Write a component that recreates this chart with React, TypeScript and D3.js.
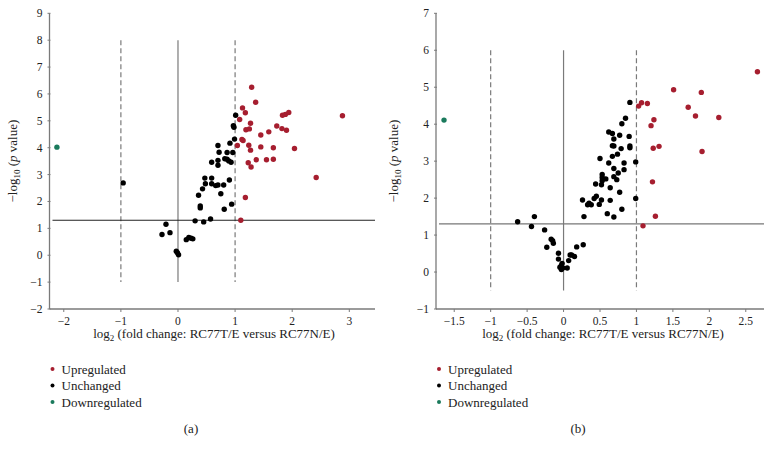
import React from "react";
import * as d3 from "d3";

// Panel (a) data: [log2 fold change, -log10 p]
const upA: [number, number][] = [
  [1.10, 1.30], [1.18, 2.15], [1.04, 4.08], [1.08, 5.05], [1.13, 5.48], [1.18, 5.30],
  [1.12, 4.31], [1.14, 4.27], [1.19, 4.67], [1.25, 4.70], [1.27, 4.91], [1.24, 4.09],
  [1.27, 3.91], [1.23, 3.44], [1.28, 3.28], [1.29, 6.25], [1.36, 5.69], [1.37, 3.55],
  [1.45, 4.47], [1.45, 4.03], [1.59, 4.59], [1.55, 3.55], [1.67, 4.00], [1.67, 3.57],
  [1.73, 4.81], [1.82, 4.71], [1.83, 5.21], [1.88, 5.24], [1.94, 5.31], [1.90, 4.65],
  [2.04, 3.97], [2.42, 2.89], [2.88, 5.19],
];
const unA: [number, number][] = [
  [-0.96, 2.69], [-0.28, 0.77], [-0.21, 1.15], [-0.14, 0.84], [-0.03, 0.15], [-0.01, 0.09],
  [0.01, 0.02], [0.145, 0.58], [0.19, 0.66], [0.23, 0.63], [0.26, 0.61], [0.30, 1.28],
  [0.36, 2.23], [0.39, 1.83], [0.39, 1.76], [0.43, 2.47], [0.45, 1.24], [0.47, 2.87],
  [0.48, 2.66], [0.57, 1.35], [0.59, 2.87], [0.59, 3.46], [0.59, 2.66], [0.66, 2.59],
  [0.70, 4.08], [0.70, 3.53], [0.70, 3.35], [0.72, 3.83], [0.70, 2.61], [0.75, 2.29],
  [0.80, 2.61], [0.81, 1.71], [0.82, 3.59], [0.86, 3.57], [0.89, 3.51], [0.93, 3.46],
  [0.86, 3.82], [0.90, 2.80], [0.91, 4.17], [0.94, 1.90], [0.96, 3.82], [0.97, 4.82],
  [0.98, 4.76], [0.99, 4.32], [1.01, 5.21],
];
const downA: [number, number][] = [[-2.12, 4.02]];

// Panel (b) data
const upB: [number, number][] = [
  [2.66, 5.42], [1.51, 4.93], [1.89, 4.86], [1.03, 4.49], [1.07, 4.58], [1.15, 4.56],
  [1.71, 4.46], [1.81, 4.22], [2.13, 4.18], [1.24, 4.12], [1.20, 3.96], [1.23, 3.35],
  [1.31, 3.40], [1.90, 3.26], [1.22, 2.44], [1.26, 1.51], [1.09, 1.25],
];
const unB: [number, number][] = [
  [0.91, 4.59], [0.85, 4.16], [0.80, 4.01], [0.62, 3.79], [0.67, 3.75], [0.69, 3.60],
  [0.77, 3.70], [0.90, 3.67], [0.67, 3.42], [0.69, 3.41], [0.79, 3.34], [0.91, 3.41],
  [0.91, 3.36], [0.74, 3.19], [0.67, 3.13], [0.50, 3.07], [0.62, 2.95], [0.83, 2.95],
  [0.99, 2.98], [0.69, 2.80], [0.83, 2.77], [0.75, 2.68], [0.53, 2.64], [0.69, 2.58],
  [0.53, 2.56], [0.58, 2.52], [0.73, 2.50], [0.53, 2.47], [0.52, 2.36], [0.44, 2.38],
  [0.64, 2.28], [0.77, 2.16], [0.45, 2.05], [0.42, 1.99], [0.99, 1.99], [0.26, 1.95],
  [0.52, 1.95], [0.64, 1.94], [0.35, 1.86], [0.38, 1.82], [0.33, 1.82], [0.49, 1.83],
  [0.80, 1.70], [0.60, 1.58], [0.69, 1.49], [0.28, 1.50], [-0.40, 1.50], [-0.63, 1.36],
  [-0.44, 1.23], [-0.26, 1.14], [-0.17, 0.89], [-0.15, 0.85], [-0.14, 0.78], [-0.23, 0.67],
  [-0.07, 0.51], [-0.07, 0.35], [-0.02, 0.23], [-0.03, 0.18], [-0.05, 0.13], [-0.03, 0.07],
  [-0.01, 0.11], [0.05, 0.11], [0.07, 0.31], [0.09, 0.46], [0.11, 0.46], [0.15, 0.42],
  [0.18, 0.68], [0.27, 0.74],
];
const downB: [number, number][] = [[-1.64, 4.11]];

const xTicksA = [-2, -1, 0, 1, 2, 3];
const yTicksA = [-2, -1, 0, 1, 2, 3, 4, 5, 6, 7, 8, 9];
const xTicksB = [-1.5, -1, -0.5, 0, 0.5, 1, 1.5, 2, 2.5];
const yTicksB = [-1, 0, 1, 2, 3, 4, 5, 6, 7];

const legendLabels = ["Upregulated", "Unchanged", "Downregulated"];
const RED = "#a61e2f";
const BLACK = "#000000";
const GREEN = "#1a7a5c";
const legendColors = [RED, BLACK, GREEN];

const FONT = "'Liberation Serif', 'Times New Roman', serif";
const AXIS = "#7a7a7a";

interface PanelProps {
  x0: number;
  x1: number;
  xDomain: [number, number];
  yDomain: [number, number];
  xTicks: number[];
  yTicks: number[];
  up: [number, number][];
  un: [number, number][];
  down: [number, number][];
  vTop: number;
  vBottom: number;
  hColor: string;
  yLabelX: number;
  tag: string;
  tagX: number;
  xLabelX: number;
}

function fmt(v: number) {
  const s = String(Math.abs(v));
  return v < 0 ? "\u2212" + s : s;
}

function Panel(p: PanelProps) {
  const top = 13.3;
  const bottom = 309;
  const x = d3.scaleLinear().domain(p.xDomain).range([p.x0, p.x1]);
  const y = d3.scaleLinear().domain(p.yDomain).range([bottom, top]);
  const yMid = (top + bottom) / 2;
  const thr = -Math.log10(0.05);
  const dots = (arr: [number, number][], color: string) =>
    arr.map((d, i) => <circle key={color + i} cx={x(d[0])} cy={y(d[1])} r={2.7} fill={color} />);
  return (
    <g fontFamily={FONT} fontSize={13} fill="#222">
      {/* reference lines */}
      <line x1={x(-1)} x2={x(-1)} y1={y(p.vTop)} y2={y(p.vBottom)} stroke={AXIS} strokeWidth={1.2} strokeDasharray="5,3" />
      <line x1={x(1)} x2={x(1)} y1={y(p.vTop)} y2={y(p.vBottom)} stroke={AXIS} strokeWidth={1.2} strokeDasharray="5,3" />
      <line x1={x(0)} x2={x(0)} y1={y(p.vTop)} y2={y(p.vBottom)} stroke={AXIS} strokeWidth={1.2} />
      <line x1={p.x0 + 3} x2={p.x1} y1={y(thr)} y2={y(thr)} stroke={p.hColor} strokeWidth={1.2} />
      {/* axes */}
      <line x1={p.x0} x2={p.x0} y1={top} y2={bottom} stroke={AXIS} strokeWidth={1.3} />
      <line x1={p.x0} x2={p.x1} y1={bottom} y2={bottom} stroke={AXIS} strokeWidth={1.3} />
      {p.yTicks.map((t) => (
        <g key={"y" + t}>
          <line x1={p.x0 - 2} x2={p.x0 + 1} y1={y(t)} y2={y(t)} stroke={AXIS} strokeWidth={1} />
          <text x={p.x0 - 7} y={y(t)} dy="0.35em" textAnchor="end" fontSize={11.5}>{fmt(t)}</text>
        </g>
      ))}
      {p.xTicks.map((t) => (
        <g key={"x" + t}>
          <line x1={x(t)} x2={x(t)} y1={bottom} y2={bottom + 3} stroke={AXIS} strokeWidth={1} />
          <text x={x(t)} y={bottom + 16} textAnchor="middle" fontSize={11.5}>{fmt(t)}</text>
        </g>
      ))}
      {/* points */}
      {dots(p.un, BLACK)}
      {dots(p.up, RED)}
      {dots(p.down, GREEN)}
      {/* axis labels */}
      <text x={p.xLabelX} y={338} textAnchor="middle">
        log<tspan fontSize={9} dy={3}>2</tspan>
        <tspan dy={-3}> (fold change: RC77T/E versus RC77N/E)</tspan>
      </text>
      <text transform={`translate(${p.yLabelX},${yMid}) rotate(-90)`} textAnchor="middle">
        {"\u2212log"}<tspan fontSize={9} dy={3}>10</tspan>
        <tspan dy={-3}> (</tspan><tspan fontStyle="italic">p</tspan><tspan> value)</tspan>
      </text>
      {/* legend */}
      {legendLabels.map((l, i) => (
        <g key={l}>
          <circle cx={p.x0 + 3} cy={369 + i * 16.5} r={2} fill={legendColors[i]} />
          <text x={p.x0 + 12} y={369 + i * 16.5} dy="0.35em">{l}</text>
        </g>
      ))}
      <text x={p.tagX} y={428} dy="0.35em" textAnchor="middle">{p.tag}</text>
    </g>
  );
}

export default function App() {
  return (
    <svg width={773} height={454} style={{ position: "absolute", left: 0, top: 0, background: "#fff" }}>
      <rect width={773} height={454} fill="#fff" />
      <Panel
        x0={49.5} x1={375} xDomain={[-2.25, 3.45]} yDomain={[-2, 9]}
        xTicks={xTicksA} yTicks={yTicksA}
        up={upA} un={unA} down={downA}
        vTop={8} vBottom={-1} hColor="#222"
        yLabelX={17} tag="(a)" tagX={191} xLabelX={214}
      />
      <Panel
        x0={436} x1={764} xDomain={[-1.75, 2.75]} yDomain={[-1, 7]}
        xTicks={xTicksB} yTicks={yTicksB}
        up={upB} un={unB} down={downB}
        vTop={6} vBottom={-0.5} hColor="#777"
        yLabelX={398} tag="(b)" tagX={578} xLabelX={603}
      />
    </svg>
  );
}
